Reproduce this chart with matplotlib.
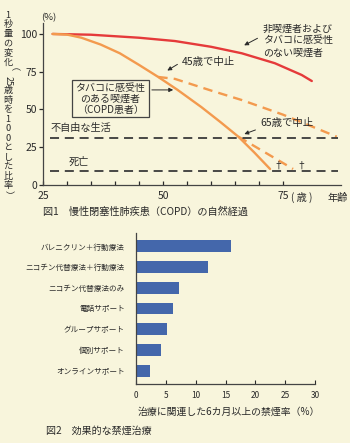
import matplotlib
matplotlib.use('Agg')
import matplotlib.pyplot as plt
from matplotlib.patches import Rectangle

plt.rcParams['font.family'] = ['Noto Sans CJK JP', 'DejaVu Sans']

# ---- fig 1: FEV1 course (Fletcher-Peto style) ----
nonsmoker_age = [27, 35, 45, 52.5, 60, 66.4, 73.3, 78.9, 81]
nonsmoker_val = [100, 99.5, 97.5, 95.3, 91.5, 87.2, 80.6, 72.8, 68.8]

smoker_age = [27, 30, 33, 37, 41, 45, 49, 53, 58, 62, 65.7, 69, 72.3]
smoker_val = [100, 99.6, 97.5, 93, 87.2, 79.5, 71.5, 63, 51.5, 41.5, 31.9, 21.5, 10.5]

quit45_age = [49, 52.5, 60, 66.4, 75, 80, 86.2]
quit45_val = [71.5, 70.2, 62.5, 56.2, 46.5, 40, 31.9]

quit65_age = [65.7, 77.1]
quit65_val = [31.9, 10.5]

disability_level = 31
death_level = 9
dagger_age = [74.0, 78.9]

# ---- fig 2: cessation treatments ----
treatments = ['バレニクリン＋行動療法', 'ニコチン代替療法＋行動療法', 'ニコチン代替療法のみ',
              '電話サポート', 'グループサポート', '個別サポート', 'オンラインサポート']
quit_rate = [15.9, 12.1, 7.2, 6.2, 5.2, 4.2, 2.3]

bg = '#f8f5dc'
red = '#e53a3a'
orange = '#f39a4e'
ink = '#2a2a2a'
blue = '#4467ab'

W, H = 350, 443
fig = plt.figure(figsize=(W / 100, H / 100), dpi=100, facecolor=bg)


def ftext(x, y, s, **kw):
    # place text by pixel position on the page
    kw.setdefault('color', ink)
    fig.text(x / W, 1 - y / H, s, **kw)


ax = fig.add_axes([43 / W, 1 - 184.8 / H, 297.6 / W, 161.4 / H])
ax.set_facecolor(bg)
ax.set_xlim(25, 87)
ax.set_ylim(0, 107)

ax.plot(nonsmoker_age, nonsmoker_val, color=red, lw=1.7, solid_capstyle='round')
ax.plot(smoker_age, smoker_val, color=orange, lw=1.7, solid_capstyle='round')
ax.plot(quit45_age, quit45_val, color=orange, lw=1.7, ls=(0, (4, 2.6)))
ax.plot(quit65_age, quit65_val, color=orange, lw=1.7, ls=(0, (4, 2.6)))
for lvl in (disability_level, death_level):
    ax.plot([26.5, 86.5], [lvl, lvl], color='#3a3a3a', lw=1.3, ls=(0, (5, 3.2)))
for a in dagger_age:
    ax.text(a, death_level + 4, '†', ha='center', va='center', fontsize=7, color=ink)

for s in ('top', 'right'):
    ax.spines[s].set_visible(False)
for s in ('left', 'bottom'):
    ax.spines[s].set_color('#444')
    ax.spines[s].set_linewidth(0.9)
ax.set_yticks([0, 25, 50, 75, 100])
ax.set_xticks([25, 50, 75])
ax.set_xticks([30, 35, 40, 45, 55, 60, 65, 70], minor=True)
ax.tick_params(axis='y', direction='out', length=3, width=0.9, pad=1,
               labelsize=7.5, colors=ink)
ax.tick_params(axis='x', which='both', direction='in', length=3, width=0.9,
               pad=4.5, labelsize=7.5, colors=ink)

ax.annotate('', xy=(66.4, 91.6), xytext=(70.2, 98.0),
            arrowprops=dict(arrowstyle='-|>', color=ink, lw=0.7, mutation_scale=6))
ax.text(70.8, 95.7, '非喫煙者および\nタバコに感受性\nのない喫煙者', fontsize=7.2,
        va='center', ha='left', linespacing=1.25, color=ink)
ax.annotate('', xy=(50.4, 74.8), xytext=(53.5, 80.8),
            arrowprops=dict(arrowstyle='-|>', color=ink, lw=0.7, mutation_scale=6))
ax.text(53.9, 81.4, '45歳で中止', fontsize=7.5, va='center', ha='left', color=ink)
ax.annotate('', xy=(66.4, 33.0), xytext=(69.8, 37.0),
            arrowprops=dict(arrowstyle='-|>', color=ink, lw=0.7, mutation_scale=6))
ax.text(70.2, 41, '65歳で中止', fontsize=7.5, va='center', ha='left', color=ink)

ax.add_patch(Rectangle((31.0, 45.0), 16.1, 24.5, fill=False, ec='#444', lw=0.9))
ax.text(39.0, 56.9, 'タバコに感受性\nのある喫煙者\n（COPD患者）', fontsize=7.2,
        ha='center', va='center', linespacing=1.1, color=ink)
ax.annotate('', xy=(52.7, 62.9), xytext=(47.1, 62.9),
            arrowprops=dict(arrowstyle='-|>', color=ink, lw=0.7, mutation_scale=6))

ax.text(26.5, 37.5, '不自由な生活', fontsize=7.3, va='center', ha='left', color=ink)
ax.text(30.3, 14.9, '死亡', fontsize=7.3, va='center', ha='left', color=ink)

ftext(49, 17.5, '(%)', fontsize=6.8, ha='center', va='center')
ftext(302, 197.5, '( 歳 )', fontsize=7.3, ha='center', va='center')
ftext(338, 197.5, '年齢', fontsize=7.3, ha='center', va='center')

# vertical y-axis caption, one glyph per row
vlabel = ['1', '秒', '量', 'の', '変', '化', '（', '25', '歳', '時', 'を',
          '1', '0', '0', 'と', 'し', 'た', '比', '率', '）']
for i, g in enumerate(vlabel):
    rot = -90 if g in ('（', '）', '25') else 0
    ftext(8, 15 + i * 180 / (len(vlabel) - 1), g, fontsize=6.6, rotation=rot,
          ha='center', va='center')

ftext(43, 212, '図1　慢性閉塞性肺疾患（COPD）の自然経過', fontsize=7.3, va='center')

# ---- bars ----
ax2 = fig.add_axes([136 / W, 1 - 384 / H, 179 / W, 151 / H])
ax2.set_facecolor('none')
ypos = list(range(len(treatments)))
ax2.barh(ypos, quit_rate, height=0.58, color=blue)
ax2.set_ylim(6.65, -0.65)
ax2.set_xlim(0, 30)
ax2.set_yticks(ypos)
ax2.set_yticklabels(treatments, fontsize=5.5, color=ink)
ax2.set_xticks([0, 5, 10, 15, 20, 25, 30])
ax2.tick_params(axis='y', length=0, pad=8)
ax2.tick_params(axis='x', direction='in', length=3, width=0.8, pad=5,
                labelsize=6, colors=ink)
for s in ('top', 'right'):
    ax2.spines[s].set_visible(False)
for s in ('left', 'bottom'):
    ax2.spines[s].set_color('#444')
    ax2.spines[s].set_linewidth(0.9)

ftext(229, 412, '治療に関連した6カ月以上の禁煙率（%）', fontsize=7.1,
      ha='center', va='center')
ftext(46, 431, '図2　効果的な禁煙治療', fontsize=7.2, va='center')

fig.savefig('out.png', dpi=100, facecolor=bg)
